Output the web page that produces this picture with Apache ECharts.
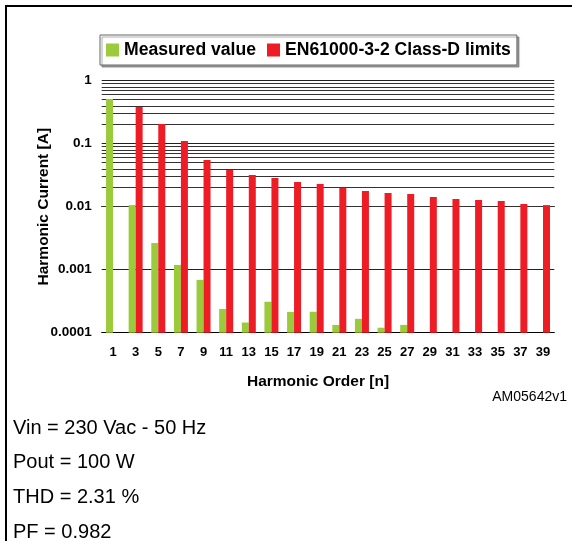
<!DOCTYPE html>
<html>
<head>
<meta charset="utf-8">
<script src="https://cdn.jsdelivr.net/npm/echarts@6/dist/echarts.min.js"></script>
<style>
html,body{margin:0;padding:0;background:#fff;}
#chart{width:572px;height:541px;}
</style>
</head>
<body>
<div id="chart"></div>
<script>
// Harmonic orders
const categories = ['1','3','5','7','9','11','13','15','17','19','21','23','25','27','29','31','33','35','37','39'];
// Measured harmonic current [A]
const measured = [0.51, 0.0106, 0.00265, 0.00119, 0.00069, 0.000238, 0.000145, 0.00031, 0.000214, 0.000215,
                  0.000133, 0.000166, 0.00012, 0.000133, null, null, null, null, null, null];
// EN61000-3-2 Class-D limits [A]
const limits = [null, 0.383, 0.205, 0.110, 0.0551, 0.0383, 0.0319, 0.0285, 0.0247, 0.0229,
                0.0200, 0.0178, 0.0165, 0.0159, 0.0143, 0.0132, 0.0128, 0.0123, 0.0110, 0.0106];
const seriesNames = ['Measured value', 'EN61000-3-2 Class-D limits'];
const yMin = 0.0001, yMax = 1;
const notes = ['Vin = 230 Vac - 50 Hz', 'Pout = 100 W', 'THD = 2.31 %', 'PF = 0.982'];
const code = 'AM05642v1';

// minor log grid values (2..9 x 10^k)
const minorGrid = [];
for (let k = -4; k <= -1; k++) {
  for (let m = 2; m <= 9; m++) minorGrid.push(+(m * Math.pow(10, k)).toPrecision(3));
}

const FONT = '"Liberation Sans", Arial, Helvetica, sans-serif';
const chart = echarts.init(document.getElementById('chart'));

const noteGraphics = notes.map((t, i) => ({
  type: 'text',
  style: { text: t, x: 13, y: 428 + i * 34.7, font: '20px ' + FONT, fill: '#000', textVerticalAlign: 'middle' }
}));

chart.setOption({
  animation: false,
  backgroundColor: '#fff',
  legend: {
    data: seriesNames,
    left: 100, top: 35,
    orient: 'horizontal',
    icon: 'rect', itemWidth: 13, itemHeight: 13, itemGap: 11,
    padding: [6, 6, 6, 6],
    backgroundColor: '#fff',
    borderColor: '#666', borderWidth: 1,
    shadowColor: 'rgba(0,0,0,0.35)', shadowOffsetX: 2, shadowOffsetY: 2, shadowBlur: 1,
    textStyle: { fontFamily: FONT, fontWeight: 'bold', fontSize: 17.6, color: '#000' }
  },
  grid: { left: 101.7, right: 17.7, top: 80.7, bottom: 208.3 },
  xAxis: {
    type: 'category',
    data: categories,
    name: 'Harmonic Order [n]',
    nameLocation: 'middle', nameGap: 41,
    nameTextStyle: { fontFamily: FONT, fontWeight: 'bold', fontSize: 15.5, color: '#000', padding: [0, 20, 0, 0] },
    axisLine: { lineStyle: { color: '#000', width: 1 } },
    axisTick: { length: 4, lineStyle: { color: '#000' } },
    axisLabel: { interval: 0, margin: 13, fontFamily: FONT, fontWeight: 'bold', fontSize: 13, color: '#000' },
    splitLine: { show: false }
  },
  yAxis: {
    type: 'log', logBase: 10, min: yMin, max: yMax, startValue: yMin,
    name: 'Harmonic Current [A]',
    nameLocation: 'middle', nameGap: 50, nameRotate: 90, nameMoveOverlap: false,
    nameTextStyle: { fontFamily: FONT, fontWeight: 'bold', fontSize: 15.5, color: '#000' },
    axisLine: { show: false },
    axisTick: { show: false },
    axisLabel: { margin: 10, fontFamily: FONT, fontWeight: 'bold', fontSize: 13.5, color: '#000',
      formatter: v => String(+(+v).toPrecision(2)) },
    splitLine: { show: true, lineStyle: { color: '#222', width: 1 } }
  },
  series: [
    {
      name: seriesNames[0], type: 'bar', data: measured,
      barWidth: 7, barGap: '0%', z: 3,
      itemStyle: { color: '#9BCB3B' }
    },
    {
      name: seriesNames[1], type: 'bar', data: limits,
      barWidth: 7, barGap: '0%', z: 3,
      itemStyle: { color: '#EE1C24' },
      markLine: {
        silent: true, z: 1, symbol: ['none', 'none'], label: { show: false },
        lineStyle: { color: '#333', width: 1, type: 'solid' },
        animation: false,
        data: minorGrid.map(v => ({ yAxis: v }))
      }
    }
  ],
  graphic: [
    { type: 'polyline', shape: { points: [[6, 541], [6, 6], [572, 6]] }, style: { stroke: '#000', lineWidth: 2, fill: null } },
    { type: 'text', style: { text: code, x: 567, y: 397, font: '14px ' + FONT, fill: '#000', textAlign: 'right', textVerticalAlign: 'middle' } }
  ].concat(noteGraphics)
});
</script>
</body>
</html>
